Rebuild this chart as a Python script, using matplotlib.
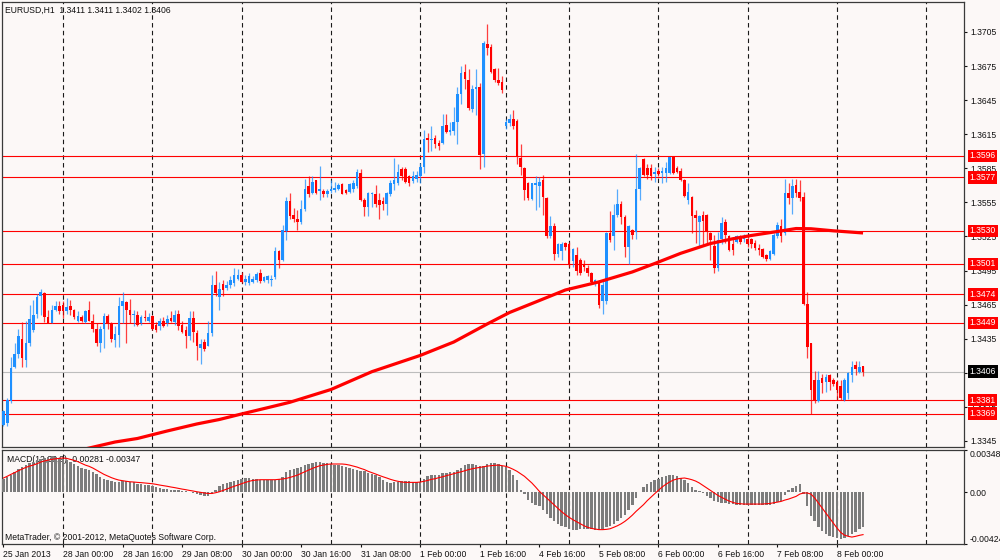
import matplotlib
matplotlib.use("Agg")
import matplotlib.pyplot as plt
import numpy as np

plt.rcParams['font.family'] = ['Liberation Sans', 'DejaVu Sans']

# ---------------- data (prices in pips above BASE) ----------------
BASE = 1.3300
PIP = 0.0001

opens = [
    59, 61, 80, 110, 122, 135, 116, 131, 143, 157,
    173, 175, 154, 149, 160, 164, 165, 159, 164, 160,
    151, 154, 150, 160, 151, 144, 131, 144, 155, 149,
    134, 138, 164, 167, 160, 156, 156, 149, 154, 151,
    155, 147, 146, 151, 149, 153, 150, 157, 147, 143,
    137, 153, 140, 127, 132, 129, 140, 182, 172, 183,
    180, 182, 184, 188, 191, 185, 184, 185, 187, 193,
    186, 187, 187, 189, 212, 204, 230, 256, 244, 240,
    238, 249, 269, 263, 275, 265, 265, 262, 265, 266,
    267, 271, 266, 264, 267, 269, 281, 257, 251, 262,
    262, 257, 256, 254, 262, 271, 272, 284, 284, 278,
    274, 276, 278, 286, 312, 310, 312, 307, 307, 323,
    317, 318, 326, 350, 370, 363, 337, 355, 357, 298,
    394, 392, 372, 363, 361, 322, 325, 328, 327, 294,
    285, 272, 258, 270, 269, 275, 259, 225, 234, 210,
    212, 219, 218, 203, 209, 204, 201, 197, 193, 185,
    185, 168, 168, 228, 225, 244, 254, 242, 216, 231,
    229, 267, 293, 285, 285, 280, 283, 281, 281, 281,
    295, 285, 283, 275, 257, 260, 244, 238, 244, 244,
    228, 217, 197, 223, 238, 225, 218, 220, 224, 223,
    223, 223, 219, 215, 214, 209, 205, 210, 225, 234,
    228, 263, 259, 270, 264, 260, 166, 131, 99, 80,
    100, 97, 103, 99, 97, 93, 81, 87, 103, 112,
    106, 111]
highs = [
    72, 83, 119, 131, 144, 150, 151, 165, 169, 174,
    179, 176, 160, 165, 168, 168, 168, 171, 169, 161,
    159, 156, 160, 168, 157, 149, 146, 158, 157, 150,
    146, 172, 176, 168, 170, 160, 159, 156, 160, 158,
    156, 150, 153, 154, 156, 159, 160, 160, 151, 146,
    159, 159, 143, 135, 135, 151, 191, 195, 185, 187,
    186, 190, 197, 196, 194, 191, 193, 190, 194, 196,
    190, 191, 191, 216, 213, 235, 260, 263, 250, 248,
    257, 276, 278, 278, 275, 287, 267, 267, 275, 273,
    272, 272, 267, 272, 275, 284, 284, 259, 264, 264,
    270, 263, 260, 264, 275, 294, 289, 286, 286, 279,
    283, 283, 290, 319, 316, 322, 314, 310, 333, 333,
    326, 339, 357, 375, 377, 372, 358, 372, 360, 397,
    412, 394, 373, 373, 366, 328, 333, 336, 328, 306,
    286, 273, 272, 278, 277, 279, 260, 243, 237, 219,
    220, 220, 220, 215, 216, 206, 204, 200, 194, 188,
    187, 187, 229, 247, 254, 267, 256, 244, 235, 232,
    298, 286, 294, 289, 289, 286, 285, 286, 291, 295,
    296, 287, 285, 276, 272, 261, 248, 244, 247, 245,
    229, 226, 229, 242, 240, 226, 223, 226, 226, 227,
    225, 224, 222, 218, 215, 210, 213, 228, 238, 240,
    276, 272, 276, 276, 275, 264, 176, 131, 107, 107,
    104, 104, 104, 100, 99, 99, 100, 106, 115, 115,
    115, 111]
lows = [
    58, 58, 78, 109, 118, 110, 110, 129, 141, 153,
    156, 150, 149, 149, 159, 157, 153, 157, 156, 152,
    150, 150, 149, 151, 141, 129, 123, 127, 144, 132,
    128, 128, 149, 131, 149, 146, 146, 147, 151, 150,
    143, 141, 143, 145, 146, 150, 147, 143, 140, 127,
    134, 132, 116, 113, 124, 129, 137, 173, 160, 173,
    178, 180, 181, 187, 184, 182, 182, 184, 185, 184,
    185, 184, 181, 188, 197, 203, 222, 240, 238, 231,
    236, 247, 260, 262, 262, 257, 260, 260, 263, 264,
    266, 262, 262, 263, 264, 268, 256, 243, 243, 251,
    251, 240, 248, 244, 261, 266, 270, 275, 272, 269,
    272, 273, 272, 281, 299, 300, 303, 301, 306, 316,
    314, 314, 306, 342, 355, 336, 335, 332, 284, 286,
    385, 369, 361, 358, 351, 320, 322, 320, 289, 279,
    257, 257, 257, 248, 251, 244, 224, 224, 204, 207,
    204, 213, 198, 198, 191, 191, 195, 190, 184, 181,
    162, 157, 166, 220, 213, 242, 236, 207, 201, 223,
    223, 257, 278, 276, 275, 273, 278, 272, 273, 280,
    280, 281, 274, 260, 254, 228, 219, 217, 217, 219,
    204, 193, 195, 218, 219, 212, 209, 219, 218, 220,
    216, 215, 213, 209, 206, 203, 204, 209, 224, 220,
    226, 254, 245, 260, 256, 165, 118, 69, 78, 79,
    87, 88, 90, 93, 81, 81, 80, 82, 97, 103,
    105, 102]
closes = [
    71, 81, 109, 122, 137, 118, 131, 152, 156, 172,
    176, 154, 149, 160, 164, 159, 159, 163, 160, 154,
    155, 151, 159, 151, 144, 131, 144, 155, 149, 135,
    139, 164, 168, 160, 156, 157, 147, 154, 153, 154,
    144, 143, 151, 146, 152, 151, 156, 146, 141, 137,
    153, 141, 129, 130, 126, 140, 182, 175, 179, 178,
    182, 187, 191, 191, 185, 188, 190, 188, 192, 186,
    189, 190, 188, 212, 204, 231, 256, 243, 240, 238,
    249, 267, 262, 273, 263, 267, 262, 265, 267, 268,
    270, 262, 263, 271, 272, 282, 257, 251, 263, 263,
    254, 253, 254, 263, 272, 275, 282, 278, 273, 272,
    278, 279, 286, 311, 310, 311, 306, 305, 322, 317,
    319, 326, 350, 369, 364, 338, 355, 357, 297, 395,
    391, 370, 363, 360, 354, 326, 328, 322, 295, 286,
    266, 259, 272, 272, 273, 260, 225, 234, 210, 218,
    218, 216, 201, 214, 195, 193, 198, 193, 185, 187,
    165, 182, 228, 222, 244, 254, 242, 216, 234, 226,
    267, 285, 279, 279, 278, 282, 280, 283, 285, 295,
    281, 282, 275, 261, 264, 243, 241, 243, 239, 229,
    222, 197, 222, 237, 226, 213, 213, 225, 220, 225,
    218, 218, 215, 213, 207, 205, 212, 226, 235, 225,
    263, 259, 269, 263, 259, 166, 128, 90, 81, 99,
    96, 101, 97, 95, 90, 83, 99, 105, 110, 108,
    110, 106]

# moving average (read at selected bars), pips above BASE
ma_bars = [20, 22, 30, 36, 44, 52, 58, 64, 72, 77, 88, 99, 112, 121, 130,
           136, 143, 151, 160, 169, 175, 182, 190, 196, 201, 208, 213, 217,
           223, 231]
ma_pips = [36.5, 38.0, 44.1, 47.2, 53.8, 60.0, 63.9, 68.8, 75.1, 79.1, 90.3,
           106.0, 120.3, 132.1, 148.0, 158.1, 167.3, 177.9, 185.0, 193.8,
           201.2, 210.2, 218.8, 223.0, 225.9, 229.4, 232.0, 231.8, 230.0, 228.1]

# MACD main (histogram) and signal, units of 1e-5
macd_main = [
    110, 126, 145, 164, 192, 208, 224, 238, 252, 263,
    274, 282, 290, 296, 290, 285, 276, 263, 246, 230,
    214, 200, 192, 181, 169, 153, 126, 112, 104, 91,
    82, 87, 93, 91, 87, 82, 71, 66, 60, 60,
    55, 44, 36, 30, 25, 22, 22, 19, 14, 9,
    3, -5, -14, -22, -33, -33, -11, 22, 50, 66,
    77, 85, 93, 104, 112, 118, 118, 112, 107, 104,
    104, 101, 101, 101, 107, 126, 164, 181, 192, 197,
    208, 222, 233, 244, 249, 246, 241, 238, 233, 228,
    222, 214, 208, 200, 192, 183, 178, 173, 162, 151,
    139, 128, 104, 82, 77, 82, 87, 91, 91, 91,
    87, 82, 87, 112, 132, 142, 145, 145, 156, 162,
    164, 167, 181, 203, 222, 230, 230, 228, 219, 214,
    235, 241, 238, 233, 220, 208, 181, 145, 104, 22,
    -11, -60, -87, -104, -115, -142, -175, -210, -238, -258,
    -274, -287, -301, -310, -310, -304, -301, -301, -304, -306,
    -306, -301, -287, -274, -258, -238, -214, -183, -148, -101,
    -46, 0, 44, 71, 87, 98, 112, 123, 132, 142,
    142, 132, 118, 104, 77, 44, 22, 9, -5, -27,
    -46, -68, -82, -87, -87, -93, -98, -104, -107, -107,
    -107, -104, -101, -101, -101, -101, -101, -96, -82, -68,
    -19, 16, 33, 50, 68, -11, -115, -192, -238, -285,
    -320, -340, -356, -367, -378, -381, -375, -361, -345, -323,
    -301, -281]
macd_signal = [
    118, 132, 148, 162, 178, 192, 205, 216, 224, 235,
    249, 258, 265, 271, 276, 279, 282, 279, 271, 263,
    252, 238, 224, 214, 200, 183, 167, 148, 134, 121,
    110, 101, 96, 91, 87, 85, 82, 80, 77, 74,
    71, 66, 60, 55, 50, 44, 39, 33, 27, 22,
    16, 11, 5, 0, -5, -9, -9, -3, 5, 16,
    27, 39, 50, 60, 71, 82, 91, 98, 101, 104,
    104, 104, 104, 104, 107, 110, 115, 123, 132, 142,
    156, 169, 183, 197, 208, 219, 224, 230, 233, 233,
    233, 233, 230, 224, 216, 208, 197, 187, 173, 162,
    151, 139, 128, 118, 107, 98, 91, 85, 82, 82,
    82, 82, 85, 91, 98, 107, 112, 121, 128, 137,
    145, 153, 162, 169, 178, 187, 194, 200, 205, 210,
    216, 219, 222, 224, 219, 214, 203, 189, 173, 153,
    132, 104, 77, 44, 9, -19, -46, -74, -104, -132,
    -159, -183, -205, -224, -241, -258, -274, -287, -296, -301,
    -306, -306, -304, -299, -287, -274, -258, -238, -214, -187,
    -156, -128, -101, -68, -39, -11, 16, 44, 66, 85,
    101, 110, 115, 118, 112, 104, 93, 77, 57, 36,
    16, -5, -25, -41, -57, -71, -82, -91, -93, -96,
    -96, -96, -96, -96, -96, -93, -91, -85, -80, -74,
    -63, -55, -44, -33, -14, -5, -5, -14, -46, -87,
    -128, -169, -210, -252, -293, -329, -351, -361, -367, -361,
    -353, -347]

levels = [1.3596, 1.3577, 1.3530, 1.3501, 1.3474, 1.3449, 1.3381, 1.3369]
bid = 1.3406
price_ticks = [1.3345, 1.3375, 1.3405, 1.3435, 1.3465, 1.3495, 1.3525,
               1.3555, 1.3585, 1.3615, 1.3645, 1.3675, 1.3705]
time_bars = [0, 16, 32, 48, 64, 80, 96, 112, 128, 144, 160, 176, 192, 208, 224]
time_labels = ['25 Jan 2013', '28 Jan 00:00', '28 Jan 16:00', '29 Jan 08:00',
               '30 Jan 00:00', '30 Jan 16:00', '31 Jan 08:00', '1 Feb 00:00',
               '1 Feb 16:00', '4 Feb 16:00', '5 Feb 08:00', '6 Feb 00:00',
               '6 Feb 16:00', '7 Feb 08:00', '8 Feb 00:00']
day_bars = [16, 40, 64, 88, 112, 135, 152, 176, 200, 224, 248]
header = 'EURUSD,H1  1.3411 1.3411 1.3402 1.3406'
macd_title = 'MACD(12,26,9) -0.00281 -0.00347'
macd_ticks = [-0.00424, 0.0, 0.00348]
macd_tick_labels = ['-0.00424', '0.00', '0.00348']
copyright_text = 'MetaTrader, \u00a9 2001-2012, MetaQuotes Software Corp.'

# ---------------- style ----------------
BG = '#FCF8F7'
BULL = '#1E90FF'
BEAR = '#FF0000'
FRAME = '#3A3A3A'
FS = 6.2

W, H = 1000, 560
fig = plt.figure(figsize=(W / 100, H / 100), dpi=100, facecolor=BG)


def rect(x0, y0, x1, y1):
    return [x0 / W, 1 - y1 / H, (x1 - x0) / W, (y1 - y0) / H]


ax = fig.add_axes(rect(2, 2, 964, 447))
axm = fig.add_axes(rect(2, 450, 964, 544))
XL = (-0.4, 258.13)

for a in (ax, axm):
    a.set_facecolor(BG)
    a.set_xlim(*XL)
    for s in a.spines.values():
        s.set_color(FRAME)
        s.set_linewidth(0.9)
    for d in day_bars:
        a.axvline(d, color='#1A1A1A', lw=0.8, ls=(0, (4, 3)), zorder=1)

# ---------------- price panel ----------------
o = BASE + np.array(opens) * PIP
h = BASE + np.array(highs) * PIP
l = BASE + np.array(lows) * PIP
c = BASE + np.array(closes) * PIP
idx = np.arange(len(closes))
cols = np.where(c >= o, BULL, BEAR)

ax.set_ylim(BASE + 39.7 * PIP, BASE + 431.4 * PIP)

for lv in levels:
    ax.axhline(lv, color='#FF0000', lw=0.8, zorder=2)
ax.axhline(bid, color='#BDBDBD', lw=0.8, zorder=2)

ax.vlines(idx, l, h, colors=cols, lw=0.9, alpha=0.75, zorder=3)
body_bot = np.minimum(o, c)
body_h = np.maximum(np.abs(c - o), 0.6 * PIP)
ax.bar(idx, body_h, bottom=body_bot, width=0.7, color=cols, lw=0, zorder=4)

ax.plot(ma_bars, BASE + np.array(ma_pips) * PIP, color='#FF0000', lw=2.3,
        zorder=5, solid_capstyle='butt', solid_joinstyle='round')

ax.yaxis.tick_right()
ax.set_yticks(price_ticks)
# the 1.3405 label sits fully under the black bid box in the terminal
ax.set_yticklabels(['' if abs(v - bid) < 0.0002 else f'{v:.4f}'
                    for v in price_ticks])
ax.tick_params(axis='y', length=2.5, width=0.8, pad=1.8, labelsize=FS,
               colors='#111111', direction='out')
ax.tick_params(axis='x', bottom=False, labelbottom=False)

ytr = ax.get_yaxis_transform()
for lv in levels:
    ax.text(1.0058, lv, f'{lv:.4f}', transform=ytr, ha='left', va='center',
            color='white', fontsize=FS, clip_on=False, zorder=10,
            bbox=dict(boxstyle='square,pad=0.2', fc='#FF0000', ec='none'))
ax.text(1.0058, bid, f'{bid:.4f}', transform=ytr, ha='left', va='center',
        color='white', fontsize=FS, clip_on=False, zorder=10,
        bbox=dict(boxstyle='square,pad=0.2', fc='#000000', ec='none'))

fig.text(5 / W, 1 - 10 / H, header, fontsize=FS, va='center', ha='left',
         color='#111111')

# ---------------- MACD panel ----------------
axm.set_ylim(macd_ticks[0], macd_ticks[-1])
axm.bar(idx, np.array(macd_main) * 1e-5, width=0.65, color='#7C7C7C', lw=0,
        zorder=3)
axm.plot(idx, np.array(macd_signal) * 1e-5, color='#FF0000', lw=0.8, zorder=4)

axm.yaxis.tick_right()
axm.set_yticks(macd_ticks)
axm.set_yticklabels(macd_tick_labels)
axm.tick_params(axis='y', length=2.5, width=0.8, pad=1.5, labelsize=FS,
                colors='#111111', direction='out')
ylabs = axm.get_yticklabels()
ylabs[0].set_va('bottom')
ylabs[-1].set_va('top')

axm.set_xticks(time_bars)
axm.set_xticklabels(time_labels)
axm.tick_params(axis='x', length=2.5, width=0.8, pad=1.5, labelsize=FS,
                colors='#111111', direction='out')
for t in axm.get_xticklabels():
    t.set_ha('left')

axm.text(5 / 962, 1 - 9.5 / 94, macd_title, transform=axm.transAxes,
         fontsize=FS, va='center', ha='left', color='#111111', zorder=2)
axm.text(3 / 962, 1 - 87.5 / 94, copyright_text, transform=axm.transAxes,
         fontsize=FS, va='center', ha='left', color='#111111', zorder=2)

fig.savefig('out.png', dpi=100, facecolor=BG)
